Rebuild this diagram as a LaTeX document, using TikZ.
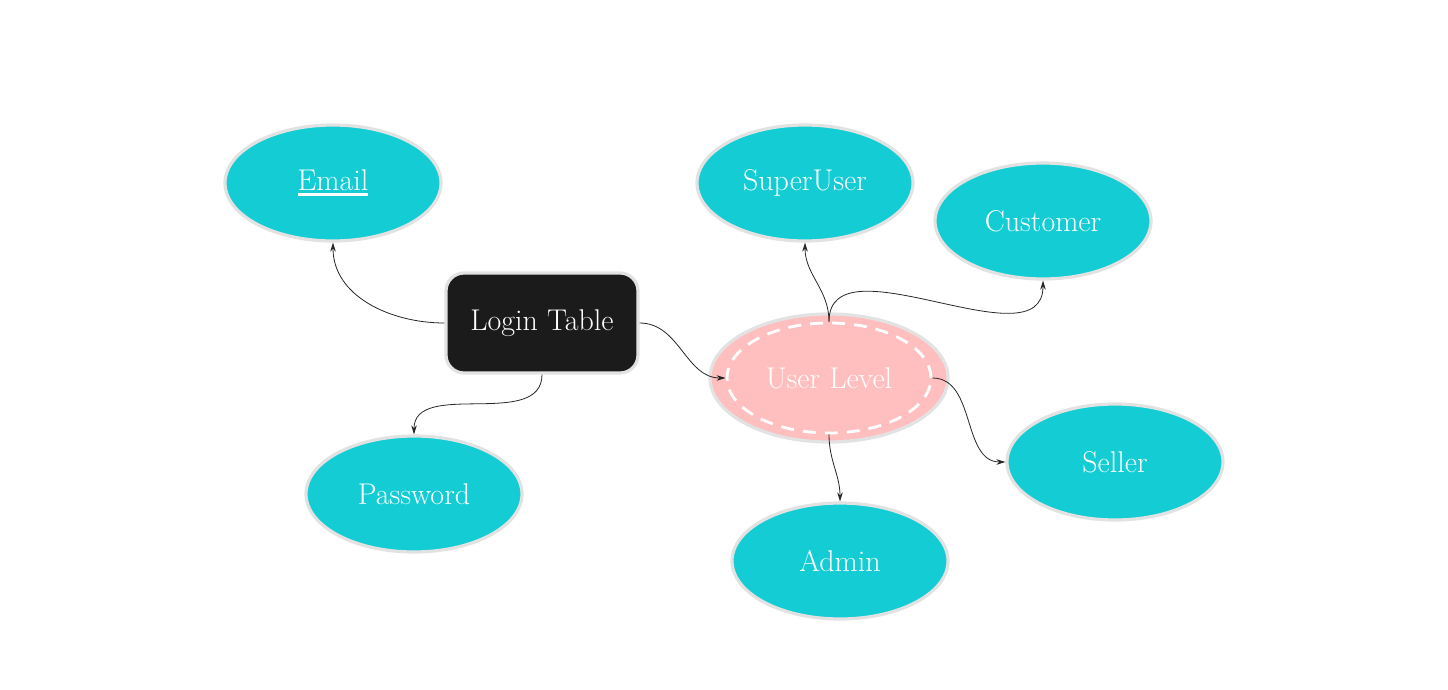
\documentclass[tikz,border=0pt]{standalone}
\usetikzlibrary{shapes.geometric,arrows.meta}
\definecolor{cyanfill}{HTML}{14CDD4}
\definecolor{rim}{HTML}{E2E2E2}
\definecolor{darkbox}{HTML}{1B1B1B}
\definecolor{pinkfill}{HTML}{FFBFBF}
\newcommand\myul[1]{\vtop{\hbox{#1}\kern2.5pt\hrule height 2.8pt}}
\tikzset{
  txt/.style={text=white, font=\fontsize{30}{35}\selectfont},
  ent/.style={txt, ellipse, draw=rim, line width=3.2pt, fill=cyanfill, minimum width=216pt, minimum height=116pt, inner sep=0pt},
  tbl/.style={txt, rectangle, rounded corners=18pt, draw=rim, line width=3.2pt, fill=darkbox, minimum width=192pt, minimum height=100pt},
  mv/.style={txt, ellipse, draw=white, dash pattern=on 13pt off 9pt, line width=2.8pt, minimum width=204pt, minimum height=110pt, inner sep=0pt},
  link/.style={draw=black!85, line width=0.8pt, -{Stealth[length=9pt,width=5.5pt]}}
}
\begin{document}
\begin{tikzpicture}[x=1pt,y=-1pt]
\useasboundingbox (0,0) rectangle (1448,690);
\node[ent] (em) at (333,183) {\myul{Email}};
\node[ent] (su) at (805,183) {SuperUser};
\node[ent] (cu) at (1043,221) {Customer};
\node[tbl] (lt) at (542,323) {Login Table};
\fill[pinkfill, draw=rim, line width=3.2pt] (829,378) ellipse [x radius=119, y radius=64];
\node[mv] (ul) at (829,378) {User Level};
\node[ent] (pw) at (414,494) {Password};
\node[ent] (se) at (1115,462) {Seller};
\node[ent] (ad) at (840,561) {Admin};
\draw[link] (lt.west) to[out=180,in=-90] (em.south);
\draw[link] (lt.south) to[out=-90,in=90] (pw.north);
\draw[link] (lt.east) to[out=0,in=180] (ul.west);
\draw[link] (ul.north) to[out=90,in=-90] (su.south);
\draw[link] (ul.north) to[out=90,in=-90] (cu.south);
\draw[link] (ul.east) to[out=0,in=180] (se.west);
\draw[link] (ul.south) to[out=-90,in=90] (ad.north);
\end{tikzpicture}
\end{document}
